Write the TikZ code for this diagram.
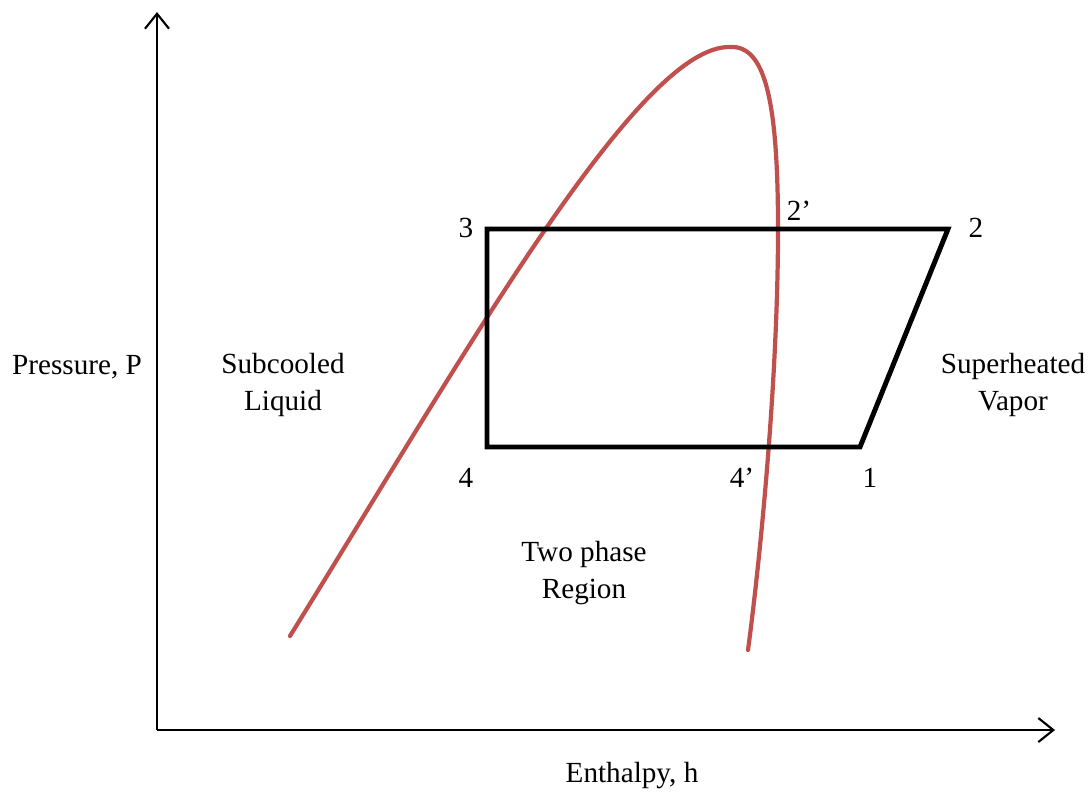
\documentclass[tikz,border=0pt]{standalone}
\usepackage{fontspec}
\setmainfont{Liberation Serif}
\usetikzlibrary{arrows.meta}
\definecolor{curvered}{RGB}{192,80,77}
\begin{document}
\begin{tikzpicture}[x=0.01cm,y=-0.01cm,
  axis/.style={line width=0.6pt,-{Straight Barb[length=0.15cm,width=0.24cm,line width=0.6pt]}},
  cycle/.style={line width=1.4pt,line join=miter},
  satcurve/.style={line width=1.2pt,curvered,line cap=round},
  lbl/.style={font=\fontsize{8.3}{10.3}\selectfont,inner sep=0pt,align=center},
  pt/.style={font=\fontsize{8.3}{10}\selectfont,inner sep=0pt}]
\useasboundingbox (0,0) rectangle (1092,793);
% axes
\coordinate (O) at (157,730);
\coordinate (ytip) at (157,12);
\coordinate (xtip) at (1055,730);
\draw[axis] (O) -- (ytip);
\draw[axis] (O) -- (xtip);
% saturation dome
\coordinate (sl) at (290,636);
\coordinate (cp) at (730,47);
\coordinate (sv) at (778,229);
\coordinate (se) at (748,650);
\draw[satcurve] (sl) .. controls (470,345) and (640,45) .. (cp)
  .. controls (765,45) and (778,100) .. (sv)
  .. controls (778,380) and (760,560) .. (se);
% cycle
\coordinate (p1) at (860,447);
\coordinate (p2) at (948,229);
\coordinate (p3) at (487,229);
\coordinate (p4) at (487,447);
\draw[cycle] (p1) -- (p2) -- (p3) -- (p4) -- cycle;
% point labels
\node[pt] (l3) at (466,228) {3};
\node[pt] (l2) at (976,228) {2};
\node[pt] (l2p) at (799,211) {2’};
\node[pt] (l4) at (466,478) {4};
\node[pt] (l4p) at (742,478) {4’};
\node[pt] (l1) at (870,478) {1};
% region labels
\node[lbl] (pr) at (77,367) {Pressure, P};
\node[lbl] (sc) at (283,385) {Subcooled\\Liquid};
\node[lbl] (sh) at (1013,385) {Superheated\\Vapor};
\node[lbl] (tp) at (584,573) {Two phase\\Region};
\node[lbl] (en) at (632,775) {Enthalpy, h};
\end{tikzpicture}
\end{document}
